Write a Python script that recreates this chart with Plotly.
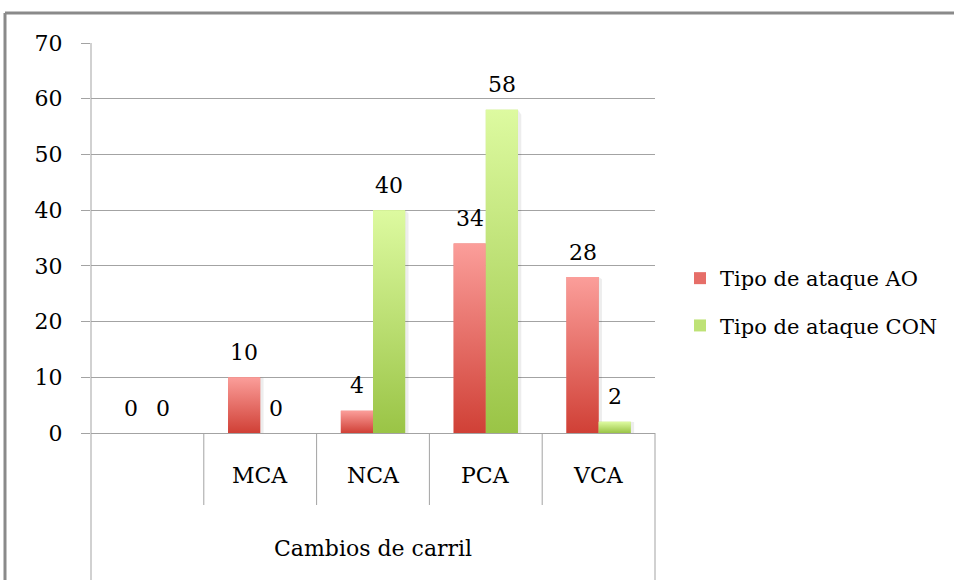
import plotly.graph_objects as go

# Lane-change categories and attack-type counts
categories = ["", "MCA", "NCA", "PCA", "VCA"]
ataque_ao = [0, 10, 4, 34, 28]
ataque_con = [0, 0, 40, 58, 2]
series_names = ["Tipo de ataque AO", "Tipo de ataque CON"]
axis_title = "Cambios de carril"
y_ticks = [0, 10, 20, 30, 40, 50, 60, 70]

W, H = 954, 580
ML, MR, MT, MB = 91, 299, 43, 147
PW, PH = W - ML - MR, H - MT - MB

FONT = "DejaVu Serif"
FS = 22
GRID = "#A3A3A3"

BARGAP = 0.43
BAR_W = (1 - BARGAP) / 2  # width of one bar in category units

RED = dict(top="rgb(251,158,154)", bottom="rgb(208,64,54)", mid="rgb(230,110,104)")
GREEN = dict(top="rgb(221,250,160)", bottom="rgb(154,196,70)", mid="rgb(190,226,118)")


def px_x(p):
    return (p - ML) / PW


def px_y(p):
    return (H - MB - p) / PH


fig = go.Figure()

xs = list(range(len(categories)))

# Base bars (also provide legend swatches)
for name, vals, col in [(series_names[0], ataque_ao, RED), (series_names[1], ataque_con, GREEN)]:
    fig.add_trace(go.Bar(
        x=xs, y=vals, name=name, legendgroup=name,
        marker=dict(color=col["mid"], line=dict(width=0)),
        hoverinfo="skip",
    ))

# Gradient-filled bar bodies drawn over the base bars
for k, (vals, col) in enumerate([(ataque_ao, RED), (ataque_con, GREEN)]):
    for i, v in enumerate(vals):
        if v <= 0:
            continue
        x0 = i - BAR_W if k == 0 else i
        x1 = x0 + BAR_W
        # soft shadow to the right of the bar
        fig.add_trace(go.Scatter(
            x=[x1, x1 + 0.03, x1 + 0.03, x1, x1],
            y=[0, 0, v * 0.985, v, 0],
            fill="toself", mode="lines", line=dict(width=0),
            fillcolor="rgba(0,0,0,0.07)", showlegend=False, hoverinfo="skip",
        ))
        fig.add_trace(go.Scatter(
            x=[x0, x1, x1, x0, x0], y=[0, 0, v, v, 0],
            fill="toself", mode="lines", line=dict(width=0),
            fillgradient=dict(type="vertical",
                              colorscale=[[0, col["bottom"]], [1, col["top"]]]),
            showlegend=False, hoverinfo="skip",
        ))

# Value labels above each bar
annotations = []
for k, vals in enumerate([ataque_ao, ataque_con]):
    for i, v in enumerate(vals):
        cx = i - BAR_W / 2 if k == 0 else i + BAR_W / 2
        annotations.append(dict(
            x=cx, y=v, xref="x", yref="y", text=str(v), showarrow=False,
            yanchor="middle", yshift=25,
            font=dict(family=FONT, size=FS, color="#000000"),
        ))

# Category labels in the table beneath the axis
for i, c in enumerate(categories):
    if c:
        annotations.append(dict(
            x=i, y=px_y(475), xref="x", yref="paper", text=c, showarrow=False,
            yanchor="middle", font=dict(family=FONT, size=FS, color="#000000"),
        ))
annotations.append(dict(
    x=0.5, y=px_y(548), xref="paper", yref="paper", text=axis_title,
    showarrow=False, yanchor="middle",
    font=dict(family=FONT, size=FS, color="#000000"),
))

shapes = []
line_style = dict(color=GRID, width=1)
# vertical axis line running down through the category table
shapes.append(dict(type="line", xref="paper", yref="paper", x0=0, x1=0,
                   y0=1, y1=px_y(H), line=line_style))
# right edge of the category table
shapes.append(dict(type="line", xref="paper", yref="paper", x0=1, x1=1,
                   y0=0, y1=px_y(H), line=line_style))
# dividers between category cells
n = len(categories)
for j in range(1, n):
    shapes.append(dict(type="line", xref="paper", yref="paper", x0=j / n, x1=j / n,
                       y0=0, y1=px_y(505), line=line_style))
# outer chart frame (left and top edges)
frame = dict(color="#8A8A8A", width=3)
shapes.append(dict(type="line", xref="paper", yref="paper", x0=px_x(5), x1=px_x(W + 5),
                   y0=px_y(13), y1=px_y(13), line=frame))
shapes.append(dict(type="line", xref="paper", yref="paper", x0=px_x(5), x1=px_x(5),
                   y0=px_y(13), y1=px_y(H + 5), line=frame))

fig.update_layout(
    width=W, height=H,
    margin=dict(l=ML, r=MR, t=MT, b=MB, pad=0, autoexpand=False),
    paper_bgcolor="white", plot_bgcolor="white",
    barmode="group", bargap=BARGAP, bargroupgap=0,
    font=dict(family=FONT, size=FS, color="#000000"),
    showlegend=True,
    legend=dict(
        x=px_x(680), y=px_y(302), xanchor="left", yanchor="middle",
        font=dict(family=FONT, size=21, color="#000000"),
        traceorder="grouped", tracegroupgap=17,
        bgcolor="rgba(0,0,0,0)", itemclick=False,
    ),
    xaxis=dict(
        range=[-0.5, n - 0.5], showgrid=False, zeroline=False,
        showticklabels=False, ticks="", showline=False, fixedrange=True,
    ),
    yaxis=dict(
        range=[0, 70], tickvals=y_ticks, showgrid=True, gridcolor=GRID, gridwidth=1,
        zeroline=True, zerolinecolor=GRID, zerolinewidth=1,
        ticks="outside", ticklen=9, tickcolor=GRID, tickwidth=1,
        ticklabelstandoff=14, showline=False, fixedrange=True,
        tickfont=dict(family=FONT, size=FS, color="#000000"),
    ),
    annotations=annotations,
    shapes=shapes,
)

fig.write_html("out.html")
